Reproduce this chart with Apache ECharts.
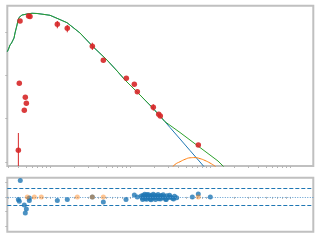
<!DOCTYPE html>
<html><head><meta charset="utf-8">
<script src="https://cdn.jsdelivr.net/npm/echarts@6/dist/echarts.min.js"></script>
<style>html,body{margin:0;padding:0;background:#fff}#c{width:320px;height:240px}</style>
</head><body><div id="c"></div>
<script>
// ---- observed photometry (top panel) ----
const obsWave = [0.0402, 0.0413, 0.0422, 0.0477, 0.0491, 0.0506, 0.0539, 0.0562, 0.1234, 0.1644, 0.338, 0.464, 0.899, 1.132, 1.234, 1.955, 2.285, 2.392, 7.14];
const obsFlux = [1.86, 65.5, 1795, 15.6, 31.1, 22.6, 2340, 2280, 1507, 1218, 468, 222, 85.5, 62.1, 41.9, 18.3, 12.6, 11.5, 2.47];
const errWave = [0.0402, 0.1234, 0.1644, 0.338, 1.955];
const errLow  = [0.81, 1218, 984, 385, 15.3];
const errHigh = [4.67, 1795, 1452, 566, 21.5];

// ---- model curves ----
const totalWave = [0.02924, 0.0303, 0.03162, 0.03304, 0.03447, 0.03548, 0.03652, 0.03758, 0.03868, 0.03981, 0.04097, 0.04217, 0.04467, 0.04732, 0.05158, 0.05957, 0.06879, 0.08176, 0.1, 0.1223, 0.1631, 0.2371, 0.3447, 0.5158, 0.7079, 0.866, 1.09, 1.334, 1.939, 2.738, 4.217, 5.623, 7.499, 10.0, 12.59, 15.85];
const totalFlux = [351.4, 405.5, 501.2, 557.5, 619.8, 727.3, 948.6, 1174, 1452, 1881, 2161, 2278, 2471, 2510, 2606, 2705, 2675, 2564, 2431, 2071, 1641, 948.6, 458.1, 225.9, 119.4, 78.0, 51.0, 35.2, 17.35, 8.51, 4.80, 3.22, 2.16, 1.45, 1.054, 0.69];
const starWave = [0.02924, 0.0303, 0.03162, 0.03304, 0.03447, 0.03548, 0.03652, 0.03758, 0.03868, 0.03981, 0.04097, 0.04217, 0.04467, 0.04732, 0.05158, 0.05957, 0.06879, 0.08176, 0.1, 0.1223, 0.1631, 0.2371, 0.3447, 0.5158, 0.7079, 0.866, 1.09, 1.334, 1.939, 2.738, 3.162, 4.217, 5.623, 7.499, 8.913];
const starFlux = [351.4, 405.5, 501.2, 557.5, 619.8, 727.3, 948.6, 1174, 1452, 1881, 2161, 2278, 2471, 2510, 2606, 2705, 2675, 2564, 2431, 2071, 1641, 948.6, 458.1, 225.9, 119.4, 78.0, 51.0, 35.2, 17.35, 8.51, 6.26, 3.40, 1.843, 1.0, 0.69];
const dustWave = [3.16, 3.65, 4.22, 4.87, 5.62, 6.49, 7.50, 8.66, 10.0, 11.55, 13.34];
const dustFlux = [0.653, 0.876, 1.016, 1.154, 1.250, 1.264, 1.198, 1.083, 0.948, 0.796, 0.62];

// ---- residuals (bottom panel) ----
const resWave = [0.0425, 0.0402, 0.0413, 0.0477, 0.0506, 0.0491, 0.0551, 0.0551, 0.1234, 0.1644, 0.338, 0.464, 0.891, 1.132, 1.234,
  1.38, 1.42, 1.46, 1.50, 1.55, 1.60, 1.64, 1.69, 1.74, 1.80, 1.86, 1.92, 1.98, 2.05, 2.12, 2.20, 2.28, 2.36, 2.45, 2.55, 2.66, 2.78, 2.90, 3.05, 3.22, 3.40, 3.60, 3.82,
  1.44, 1.53, 1.62, 1.72, 1.83, 1.95, 2.08, 2.24, 2.40, 2.60, 2.84, 3.12, 3.50,
  6.01, 7.14, 10.09];
const resVal = [5.54, -0.92, -1.5, -2.72, -4.08, -5.44, -0.34, -1.26, -1.26, -0.92, 0, -1.7, -0.92, 0.68, 0,
  0.3, -0.4, 0.6, 0.1, -0.6, 0.4, 0.8, -0.2, 0.2, -0.7, 0.5, 0.0, -0.4, 0.6, -0.1, 0.3, -0.6, 0.2, 0.5, -0.3, 0.1, -0.8, 0.4, -0.2, 0.0, -0.5, 0.2, -0.3,
  -0.9, 0.9, -0.8, 0.7, -1.0, 0.9, -0.9, 0.8, -0.7, 0.7, -0.9, 0.6, -0.7,
  0, 1.0, 0];
const limWave = [0.0520, 0.0637, 0.0778, 0.2194, 0.338, 0.464, 7.14];
const limVal  = [0, 0, 0, 0, 0, 0, 0];
const sigmaLines = [3, -3];

// ---- ticks ----
const xTicks = [0.03,0.04,0.05,0.06,0.07,0.08,0.09,0.1,0.2,0.3,0.4,0.5,0.6,0.7,0.8,0.9,1,2,3,4,5,6,7,8,9,10,20,30,40,50,60,70,80,90,100];
const yTicksTop = [1, 10, 100, 1000];
const yTicksRes = [5, 0, -5, -10];

const zip = (a, b) => a.map((v, i) => [v, b[i]]);
const tickStyle = {color: '#b5b5b5', width: 1};
const chart = echarts.init(document.getElementById('c'), null, {renderer: 'canvas'});

const xAxisBase = (gi) => ({
  type: 'log', gridIndex: gi, min: 0.02924, max: 195.5,
  axisLine: {show: false}, splitLine: {show: false}, axisLabel: {show: false},
  axisTick: {show: true, length: 2, lineStyle: tickStyle, customValues: xTicks}
});

chart.setOption({
  animation: false,
  backgroundColor: '#fff',
  grid: [
    {left: 7.3, right: 6.7, top: 5.7, height: 160.3, show: true, borderColor: '#c0c0c0', borderWidth: 2},
    {left: 7.3, right: 6.7, top: 177.7, height: 54, show: true, borderColor: '#c0c0c0', borderWidth: 2}
  ],
  xAxis: [xAxisBase(0), xAxisBase(1)],
  yAxis: [
    {type: 'log', gridIndex: 0, min: 0.809, max: 4046,
     axisLine: {show: false}, splitLine: {show: false}, axisLabel: {show: false},
     axisTick: {show: true, length: 2, lineStyle: tickStyle, customValues: yTicksTop}},
    {type: 'value', gridIndex: 1, min: -11.84, max: 6.53,
     axisLine: {show: false}, splitLine: {show: false}, axisLabel: {show: false},
     axisTick: {show: true, length: 2, lineStyle: tickStyle, customValues: yTicksRes}}
  ],
  series: [
    {type: 'line', xAxisIndex: 0, yAxisIndex: 0, data: zip(starWave, starFlux), showSymbol: false, symbol: 'none',
     lineStyle: {color: '#1f77b4', width: 1}, z: 2},
    {type: 'line', xAxisIndex: 0, yAxisIndex: 0, data: zip(dustWave, dustFlux), showSymbol: false, symbol: 'none', smooth: true,
     lineStyle: {color: '#ff7f0e', width: 1}, z: 2},
    {type: 'line', xAxisIndex: 0, yAxisIndex: 0, data: zip(totalWave, totalFlux), showSymbol: false, symbol: 'none',
     lineStyle: {color: '#2ca02c', width: 1}, z: 3},
    {type: 'custom', xAxisIndex: 0, yAxisIndex: 0, clip: true, z: 4,
     data: errWave.map((w, i) => [w, errLow[i], errHigh[i]]),
     renderItem: function (params, api) {
       const p1 = api.coord([api.value(0), api.value(1)]);
       const p2 = api.coord([api.value(0), api.value(2)]);
       return {type: 'line', shape: {x1: p1[0], y1: p1[1], x2: p2[0], y2: p2[1]}, style: {stroke: '#d62728', lineWidth: 1}};
     }},
    {type: 'scatter', xAxisIndex: 0, yAxisIndex: 0, data: zip(obsWave, obsFlux), symbolSize: 5.5,
     itemStyle: {color: '#d62728', opacity: 0.9}, z: 5},
    {type: 'scatter', xAxisIndex: 1, yAxisIndex: 1, data: zip(resWave, resVal), symbolSize: 5,
     itemStyle: {color: '#1f77b4'}, z: 4,
     markLine: {silent: true, symbol: 'none', label: {show: false}, animation: false,
       data: [
         {yAxis: sigmaLines[0], lineStyle: {color: '#1f77b4', type: [4, 2], width: 1}},
         {yAxis: sigmaLines[1], lineStyle: {color: '#1f77b4', type: [4, 2], width: 1}},
         {yAxis: 0, lineStyle: {color: '#5b9bd0', type: [1, 1.5], width: 1}}
       ]}},
    {type: 'scatter', xAxisIndex: 1, yAxisIndex: 1, data: zip(limWave, limVal), symbolSize: 5,
     itemStyle: {color: '#ff7f0e', opacity: 0.45}, z: 5}
  ]
});
</script></body></html>
